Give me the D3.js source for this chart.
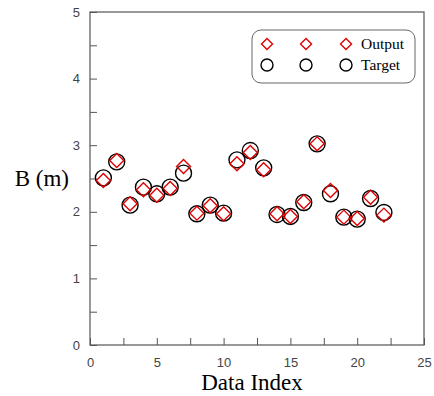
<!DOCTYPE html>
<html>
<head>
<meta charset="utf-8">
<script src="https://cdn.jsdelivr.net/npm/d3@7"></script>
<style>
  body { margin: 0; background: #fff; }
  svg { display: block; }
</style>
</head>
<body>
<div id="chart"></div>
<script>
// data
const dataIndex = [1, 2, 3, 4, 5, 6, 7, 8, 9, 10, 11, 12, 13, 14, 15, 16, 17, 18, 19, 20, 21, 22];
const outputB = [2.47, 2.77, 2.12, 2.33, 2.25, 2.35, 2.68, 1.98, 2.09, 1.97, 2.72, 2.89, 2.63, 1.97, 1.93, 2.15, 3.02, 2.32, 1.92, 1.90, 2.22, 1.95];
const targetB = [2.51, 2.75, 2.10, 2.37, 2.27, 2.37, 2.58, 1.97, 2.10, 1.98, 2.78, 2.92, 2.66, 1.96, 1.93, 2.14, 3.02, 2.27, 1.92, 1.89, 2.20, 1.99];
const xTicks = [0, 5, 10, 15, 20, 25];
const yTicks = [0, 1, 2, 3, 4, 5];

const width = 434, height = 396;
const margin = { top: 12, right: 10, bottom: 51, left: 90 };
const innerW = width - margin.left - margin.right;
const innerH = height - margin.top - margin.bottom;

const svg = d3.select('#chart').append('svg')
  .attr('width', width)
  .attr('height', height);

const chart = svg.append('g')
  .attr('transform', `translate(${margin.left},${margin.top})`);

const xScale = d3.scaleLinear().domain([0, 25]).range([0, innerW]);
const yScale = d3.scaleLinear().domain([0, 5]).range([innerH, 0]);

// axes, ticks inward
const xAxis = d3.axisBottom(xScale)
  .tickValues(d3.range(0, 25.01, 2.5))
  .tickSizeInner(-7).tickSizeOuter(0).tickPadding(10)
  .tickFormat(d => xTicks.includes(d) ? d : '');

const yAxis = d3.axisLeft(yScale)
  .tickValues(d3.range(0, 5.01, 0.5))
  .tickSizeInner(-7).tickSizeOuter(0).tickPadding(10)
  .tickFormat(d => yTicks.includes(d) ? d : '');

const gx = chart.append('g')
  .attr('transform', `translate(0,${innerH})`)
  .call(xAxis);
const gy = chart.append('g').call(yAxis);

[gx, gy].forEach(g => {
  g.select('.domain').remove();
  g.selectAll('line').attr('stroke', '#555').attr('stroke-width', 1);
  g.selectAll('text')
    .style('font-family', '"Liberation Sans", Arial, sans-serif')
    .style('font-size', '13px')
    .attr('fill', '#444');
});
gx.selectAll('text').attr('dy', '0.9em');

// frame
chart.append('rect')
  .attr('width', innerW).attr('height', innerH)
  .attr('fill', 'none')
  .attr('stroke', '#555')
  .attr('stroke-width', 1.2);

// axis titles
svg.append('text')
  .attr('x', 69).attr('y', 186)
  .attr('text-anchor', 'end')
  .style('font-family', '"Liberation Serif", "Times New Roman", serif')
  .style('font-size', '23px')
  .text('B (m)');

svg.append('text')
  .attr('x', margin.left + innerW / 2 - 5).attr('y', 390)
  .attr('text-anchor', 'middle')
  .style('font-family', '"Liberation Serif", "Times New Roman", serif')
  .style('font-size', '23px')
  .text('Data Index');

const diamond = s => `M0,${-s}L${s},0L0,${s}L${-s},0Z`;

// target circles
chart.selectAll('.target')
  .data(dataIndex)
  .enter().append('circle')
  .classed('target', true)
  .attr('cx', (d, i) => xScale(d))
  .attr('cy', (d, i) => yScale(targetB[i]))
  .attr('r', 8)
  .attr('fill', 'none')
  .attr('stroke', '#000')
  .attr('stroke-width', 1.4);

// output diamonds
chart.selectAll('.output')
  .data(dataIndex)
  .enter().append('path')
  .classed('output', true)
  .attr('transform', (d, i) => `translate(${xScale(d)},${yScale(outputB[i])})`)
  .attr('d', diamond(7))
  .attr('fill', 'none')
  .attr('stroke', '#e00000')
  .attr('stroke-width', 1.4);

// legend
const legend = svg.append('g').attr('transform', 'translate(252,30)');
legend.append('rect')
  .attr('width', 163).attr('height', 53)
  .attr('rx', 9).attr('ry', 9)
  .attr('fill', '#fff')
  .attr('stroke', '#666')
  .attr('stroke-width', 1);

const legendX = [15, 54, 94];
legendX.forEach(x => {
  legend.append('path')
    .attr('transform', `translate(${x},14)`)
    .attr('d', diamond(5.5))
    .attr('fill', 'none')
    .attr('stroke', '#e00000')
    .attr('stroke-width', 1.4);
  legend.append('circle')
    .attr('cx', x).attr('cy', 35).attr('r', 6)
    .attr('fill', 'none')
    .attr('stroke', '#000')
    .attr('stroke-width', 1.4);
});

[['Output', 19], ['Target', 40]].forEach(([label, y]) => {
  legend.append('text')
    .attr('x', 109).attr('y', y)
    .style('font-family', '"Liberation Serif", "Times New Roman", serif')
    .style('font-size', '15.5px')
    .text(label);
});
</script>
</body>
</html>
